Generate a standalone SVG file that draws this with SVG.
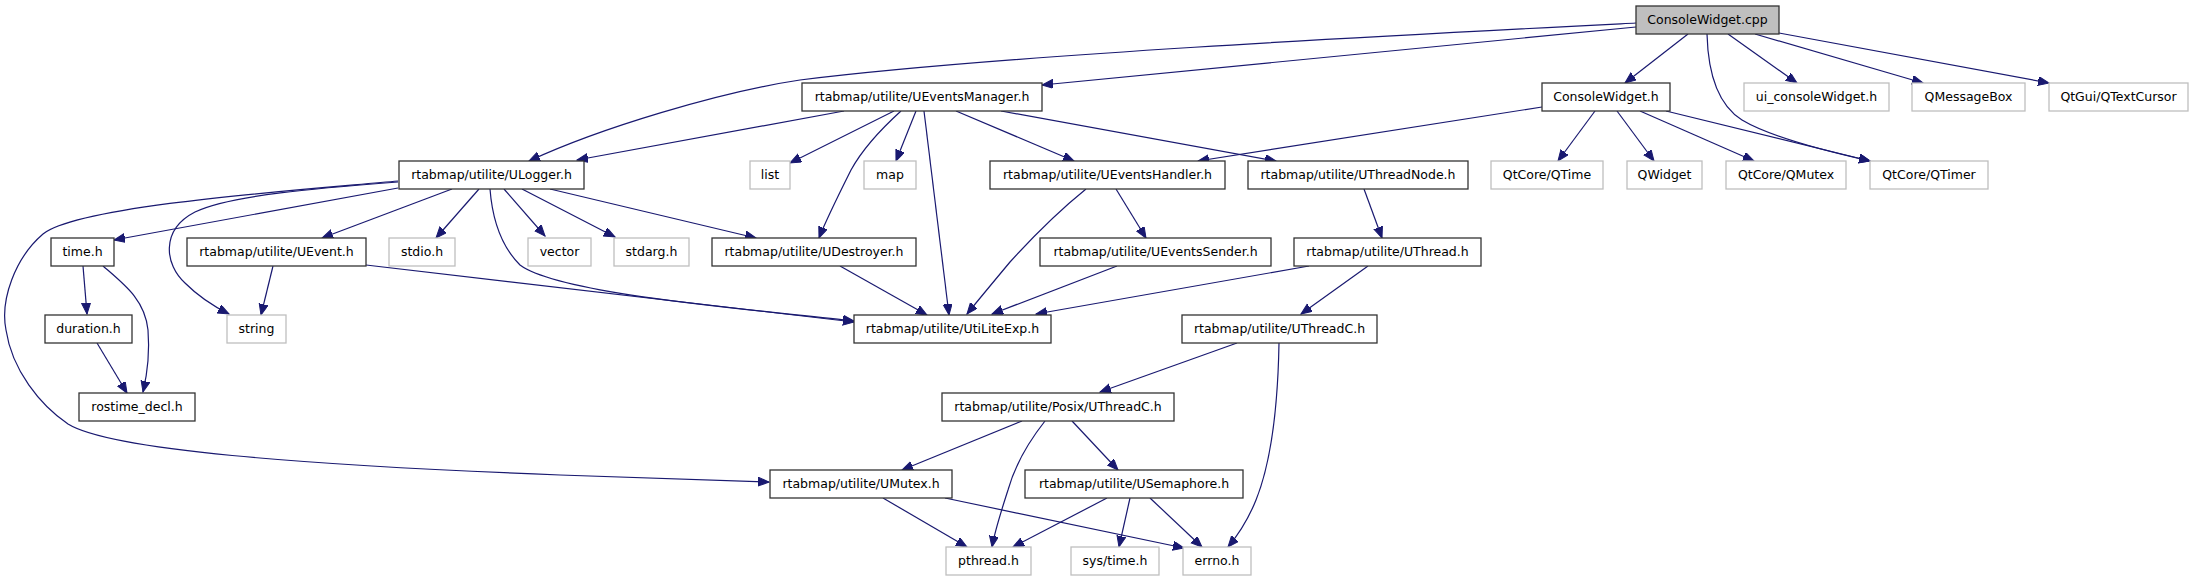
<svg xmlns="http://www.w3.org/2000/svg" width="2193" height="581" viewBox="0 0 2193 581">
<style>
text{font-family:"DejaVu Sans","Liberation Sans",sans-serif;font-size:12.5px;fill:#000;text-anchor:middle}
.n rect{fill:#fff;stroke:#333;stroke-width:1.3}
.g rect{fill:#fff;stroke:#bfbfbf;stroke-width:1.3}
.m rect{fill:#bfbfbf;stroke:#333;stroke-width:1.3}
#edges path{fill:none;stroke:#191970;stroke-width:1.2;marker-end:url(#a)}
</style>
<defs>
<marker id="a" markerWidth="12" markerHeight="10" refX="11" refY="4.5" orient="auto" markerUnits="userSpaceOnUse">
<path d="M0,0 L11,4.5 L0,9 z" fill="#191970" stroke="#191970" stroke-width="1"/>
</marker>
</defs>
<rect width="2193" height="581" fill="#fff"/>
<g id="edges">
<path d="M1636,23 C1400,35 1000,55 800,80 C720,92 600,128 529,161"/>
<path d="M1636,27 L1042,85"/>
<path d="M1688,34 L1625,83"/>
<path d="M1707,34 C1708,72 1718,105 1742,120 C1772,138 1830,152 1870,161"/>
<path d="M1728,34 L1797,83"/>
<path d="M1755,34 L1923,83"/>
<path d="M1779,33 L2049,83"/>
<path d="M1542,107 L1198,161"/>
<path d="M1595,111 L1558,161"/>
<path d="M1617,111 L1654,161"/>
<path d="M1640,111 L1754,161"/>
<path d="M1666,111 L1870,161"/>
<path d="M844,111 L577,160"/>
<path d="M894,111 L790,163"/>
<path d="M916,111 L896,161"/>
<path d="M901,111 C880,130 862,150 851,170 C836,200 826,220 819,238"/>
<path d="M924,111 L949,315"/>
<path d="M956,111 L1074,161"/>
<path d="M1001,111 L1276,161"/>
<path d="M398,188 L114,240"/>
<path d="M398,181 C300,190 80,205 43,234 C15,258 0,300 6,330 C12,370 40,405 68,424 C110,450 300,465 560,475 L769,482"/>
<path d="M398,182 C320,188 230,195 195,212 C160,230 165,265 185,283 C200,298 215,307 229,314"/>
<path d="M452,189 L322,238"/>
<path d="M479,189 L436,238"/>
<path d="M490,189 C492,215 500,245 520,265 C560,295 760,310 854,321"/>
<path d="M504,189 L545,236"/>
<path d="M522,189 L615,237"/>
<path d="M550,189 L756,238"/>
<path d="M83,266 L87,314"/>
<path d="M103,266 C125,285 145,300 148,330 C150,355 147,375 143,392"/>
<path d="M97,343 L127,393"/>
<path d="M273,266 L261,315"/>
<path d="M366,265 L854,322"/>
<path d="M840,266 L927,315"/>
<path d="M1086,189 C1060,210 1030,240 1010,262 C995,280 980,298 967,314"/>
<path d="M1116,189 L1146,238"/>
<path d="M1364,189 L1382,238"/>
<path d="M1117,266 L992,314"/>
<path d="M1309,266 L1036,314"/>
<path d="M1368,266 L1301,314"/>
<path d="M1237,343 L1100,392"/>
<path d="M1279,343 C1278,400 1272,460 1256,500 C1248,520 1238,535 1228,547"/>
<path d="M1022,421 L902,470"/>
<path d="M1045,421 C1030,440 1015,465 1008,490 C1000,515 995,530 992,547"/>
<path d="M1072,421 L1118,470"/>
<path d="M883,498 L967,547"/>
<path d="M945,498 L1184,548"/>
<path d="M1107,498 L1013,547"/>
<path d="M1130,498 L1119,547"/>
<path d="M1150,498 L1202,547"/>
</g>
<g id="ConsoleWidget_cpp" class="m"><rect x="1636" y="6" width="143" height="28"/><text x="1707.5" y="23.5">ConsoleWidget.cpp</text></g>
<g id="UEventsManager_h" class="n"><rect x="802" y="83" width="240" height="28"/><text x="922" y="100.5">rtabmap/utilite/UEventsManager.h</text></g>
<g id="ConsoleWidget_h" class="n"><rect x="1542" y="83" width="128" height="28"/><text x="1606" y="100.5">ConsoleWidget.h</text></g>
<g id="ui_consoleWidget_h" class="g"><rect x="1744" y="83" width="145" height="28"/><text x="1816.5" y="100.5">ui_consoleWidget.h</text></g>
<g id="QMessageBox" class="g"><rect x="1912" y="83" width="113" height="28"/><text x="1968.5" y="100.5">QMessageBox</text></g>
<g id="QTextCursor" class="g"><rect x="2049" y="83" width="139" height="28"/><text x="2118.5" y="100.5">QtGui/QTextCursor</text></g>
<g id="ULogger_h" class="n"><rect x="399" y="161" width="185" height="28"/><text x="491.5" y="178.5">rtabmap/utilite/ULogger.h</text></g>
<g id="list" class="g"><rect x="750" y="161" width="40" height="28"/><text x="770" y="178.5">list</text></g>
<g id="map" class="g"><rect x="864" y="161" width="52" height="28"/><text x="890" y="178.5">map</text></g>
<g id="UEventsHandler_h" class="n"><rect x="990" y="161" width="235" height="28"/><text x="1107.5" y="178.5">rtabmap/utilite/UEventsHandler.h</text></g>
<g id="UThreadNode_h" class="n"><rect x="1248" y="161" width="220" height="28"/><text x="1358" y="178.5">rtabmap/utilite/UThreadNode.h</text></g>
<g id="QTime" class="g"><rect x="1491" y="161" width="112" height="28"/><text x="1547" y="178.5">QtCore/QTime</text></g>
<g id="QWidget" class="g"><rect x="1627" y="161" width="75" height="28"/><text x="1664.5" y="178.5">QWidget</text></g>
<g id="QMutex" class="g"><rect x="1726" y="161" width="120" height="28"/><text x="1786" y="178.5">QtCore/QMutex</text></g>
<g id="QTimer" class="g"><rect x="1870" y="161" width="118" height="28"/><text x="1929" y="178.5">QtCore/QTimer</text></g>
<g id="time_h" class="n"><rect x="51" y="238" width="63" height="28"/><text x="82.5" y="255.5">time.h</text></g>
<g id="UEvent_h" class="n"><rect x="187" y="238" width="179" height="28"/><text x="276.5" y="255.5">rtabmap/utilite/UEvent.h</text></g>
<g id="stdio_h" class="g"><rect x="389" y="238" width="66" height="28"/><text x="422" y="255.5">stdio.h</text></g>
<g id="vector" class="g"><rect x="528" y="238" width="63" height="28"/><text x="559.5" y="255.5">vector</text></g>
<g id="stdarg_h" class="g"><rect x="614" y="238" width="75" height="28"/><text x="651.5" y="255.5">stdarg.h</text></g>
<g id="UDestroyer_h" class="n"><rect x="712" y="238" width="204" height="28"/><text x="814" y="255.5">rtabmap/utilite/UDestroyer.h</text></g>
<g id="UEventsSender_h" class="n"><rect x="1040" y="238" width="231" height="28"/><text x="1155.5" y="255.5">rtabmap/utilite/UEventsSender.h</text></g>
<g id="UThread_h" class="n"><rect x="1294" y="238" width="187" height="28"/><text x="1387.5" y="255.5">rtabmap/utilite/UThread.h</text></g>
<g id="duration_h" class="n"><rect x="45" y="315" width="87" height="28"/><text x="88.5" y="332.5">duration.h</text></g>
<g id="string" class="g"><rect x="227" y="315" width="59" height="28"/><text x="256.5" y="332.5">string</text></g>
<g id="UtiLiteExp_h" class="n"><rect x="854" y="315" width="197" height="28"/><text x="952.5" y="332.5">rtabmap/utilite/UtiLiteExp.h</text></g>
<g id="UThreadC_h" class="n"><rect x="1182" y="315" width="195" height="28"/><text x="1279.5" y="332.5">rtabmap/utilite/UThreadC.h</text></g>
<g id="rostime_decl_h" class="n"><rect x="79" y="393" width="116" height="28"/><text x="137" y="410.5">rostime_decl.h</text></g>
<g id="Posix_UThreadC_h" class="n"><rect x="942" y="393" width="232" height="28"/><text x="1058" y="410.5">rtabmap/utilite/Posix/UThreadC.h</text></g>
<g id="UMutex_h" class="n"><rect x="770" y="470" width="182" height="28"/><text x="861" y="487.5">rtabmap/utilite/UMutex.h</text></g>
<g id="USemaphore_h" class="n"><rect x="1025" y="470" width="218" height="28"/><text x="1134" y="487.5">rtabmap/utilite/USemaphore.h</text></g>
<g id="pthread_h" class="g"><rect x="946" y="547" width="85" height="28"/><text x="988.5" y="564.5">pthread.h</text></g>
<g id="sys_time_h" class="g"><rect x="1071" y="547" width="88" height="28"/><text x="1115" y="564.5">sys/time.h</text></g>
<g id="errno_h" class="g"><rect x="1183" y="547" width="68" height="28"/><text x="1217" y="564.5">errno.h</text></g>
</svg>
